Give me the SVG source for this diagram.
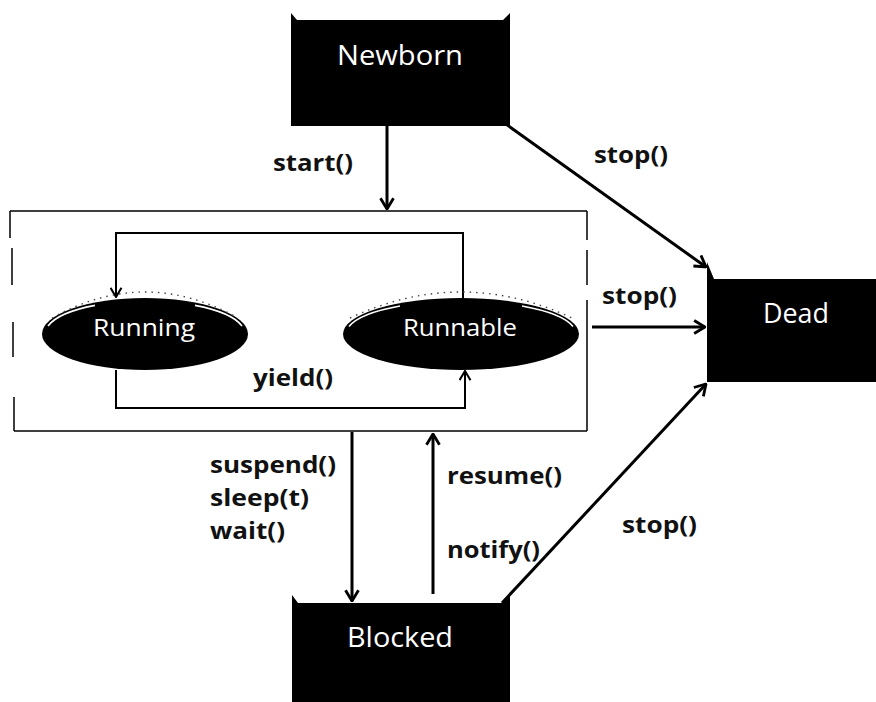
<svg xmlns="http://www.w3.org/2000/svg" width="876" height="702" viewBox="0 0 876 702">
<defs>
<style>
.box{fill:#000}
.ntext{font-family:"Open Sans","Liberation Sans",sans-serif;fill:#fff;text-anchor:middle}
.lbl{font-family:"Open Sans","Liberation Sans",sans-serif;font-weight:bold;font-size:24px;fill:#111}
.conn{stroke:#000;stroke-width:3;fill:none}
.loop{stroke:#000;stroke-width:2;fill:none}
.frame{stroke:#000;stroke-width:1.5;fill:none}
.hl{stroke:#fff;stroke-width:1.6;fill:none}
.dots{stroke:#444;stroke-width:1.4;fill:none;stroke-dasharray:1.5 5}
</style>
<marker id="ah" viewBox="0 0 12 14" refX="11" refY="7" markerWidth="13" markerHeight="16" markerUnits="userSpaceOnUse" orient="auto">
<path d="M1,1 L11,7 L1,13" fill="none" stroke="#000" stroke-width="2.6"/>
</marker>
<marker id="ahs" viewBox="0 0 12 14" refX="11" refY="7" markerWidth="11" markerHeight="13" markerUnits="userSpaceOnUse" orient="auto">
<path d="M1,1 L11,7 L1,13" fill="none" stroke="#000" stroke-width="2.2"/>
</marker>
</defs>
<rect width="876" height="702" fill="#fff"/>

<g id="container">
<path class="frame" d="M10,211 H587 M10,211 V238 M12,248 V285 M13,322 V357 M14,397 V431 M14,431 H587 M587,211 V240 M587,250 V285 M587,300 V431"/>
</g>

<g id="connectors">
<line class="conn" x1="387" y1="126" x2="387" y2="209" marker-end="url(#ah)"/>
<line class="conn" x1="503" y1="122" x2="706" y2="267" marker-end="url(#ah)"/>
<line class="conn" x1="592" y1="327" x2="705" y2="327" marker-end="url(#ah)"/>
<line class="conn" x1="352" y1="432" x2="352" y2="601" marker-end="url(#ah)"/>
<line class="conn" x1="433" y1="594" x2="433" y2="434" marker-end="url(#ah)"/>
<line class="conn" x1="502" y1="603" x2="706" y2="384" marker-end="url(#ah)"/>
<polyline class="loop" points="463,300 463,233 116,233 116,297" marker-end="url(#ahs)"/>
<polyline class="loop" points="116,370 116,408 465,408 465,371" marker-end="url(#ahs)"/>
</g>

<g id="newborn">
<path class="box" d="M291,13 L297,20 H503 L510,13 V126 H291 Z"/>
<text class="ntext" x="400" y="65" font-size="27" textLength="126" lengthAdjust="spacingAndGlyphs">Newborn</text>
</g>

<g id="dead">
<path class="box" d="M707,262 L714,279 H876 V382 H707 Z"/>
<text class="ntext" x="796" y="323" font-size="28" textLength="66" lengthAdjust="spacingAndGlyphs">Dead</text>
</g>

<g id="blocked">
<path class="box" d="M292,595 L298,603 H503 L510,595 V702 H292 Z"/>
<text class="ntext" x="400" y="647" font-size="28" textLength="106" lengthAdjust="spacingAndGlyphs">Blocked</text>
</g>

<g id="running">
<ellipse class="box" cx="145" cy="334" rx="103" ry="36"/>
<path class="dots" d="M52,318 Q145,266 238,318"/>
<path class="hl" d="M48,326 A100,33 0 0 1 95,305.4 M195,305.4 A100,33 0 0 1 242,326"/>
<text class="ntext" x="144" y="336" font-size="23" textLength="102" lengthAdjust="spacingAndGlyphs">Running</text>
</g>

<g id="runnable">
<ellipse class="box" cx="461" cy="334" rx="118" ry="36"/>
<path class="dots" d="M350,318 Q461,266 572,318"/>
<path class="hl" d="M349,326.5 A115,33 0 0 1 400,306 M522,306 A115,33 0 0 1 573,326.5"/>
<text class="ntext" x="460" y="336" font-size="23" textLength="114" lengthAdjust="spacingAndGlyphs">Runnable</text>
</g>

<g id="labels">
<text class="lbl" x="273" y="171" textLength="80" lengthAdjust="spacingAndGlyphs">start()</text>
<text class="lbl" x="594" y="163" textLength="74" lengthAdjust="spacingAndGlyphs">stop()</text>
<text class="lbl" x="602" y="304" textLength="75" lengthAdjust="spacingAndGlyphs">stop()</text>
<text class="lbl" x="253" y="386" textLength="80" lengthAdjust="spacingAndGlyphs">yield()</text>
<text class="lbl" x="210" y="473" textLength="126" lengthAdjust="spacingAndGlyphs">suspend()</text>
<text class="lbl" x="210" y="506" textLength="99" lengthAdjust="spacingAndGlyphs">sleep(t)</text>
<text class="lbl" x="210" y="539" textLength="75" lengthAdjust="spacingAndGlyphs">wait()</text>
<text class="lbl" x="447" y="484" textLength="115" lengthAdjust="spacingAndGlyphs">resume()</text>
<text class="lbl" x="447" y="558" textLength="93" lengthAdjust="spacingAndGlyphs">notify()</text>
<text class="lbl" x="622" y="533" textLength="75" lengthAdjust="spacingAndGlyphs">stop()</text>
</g>
</svg>
